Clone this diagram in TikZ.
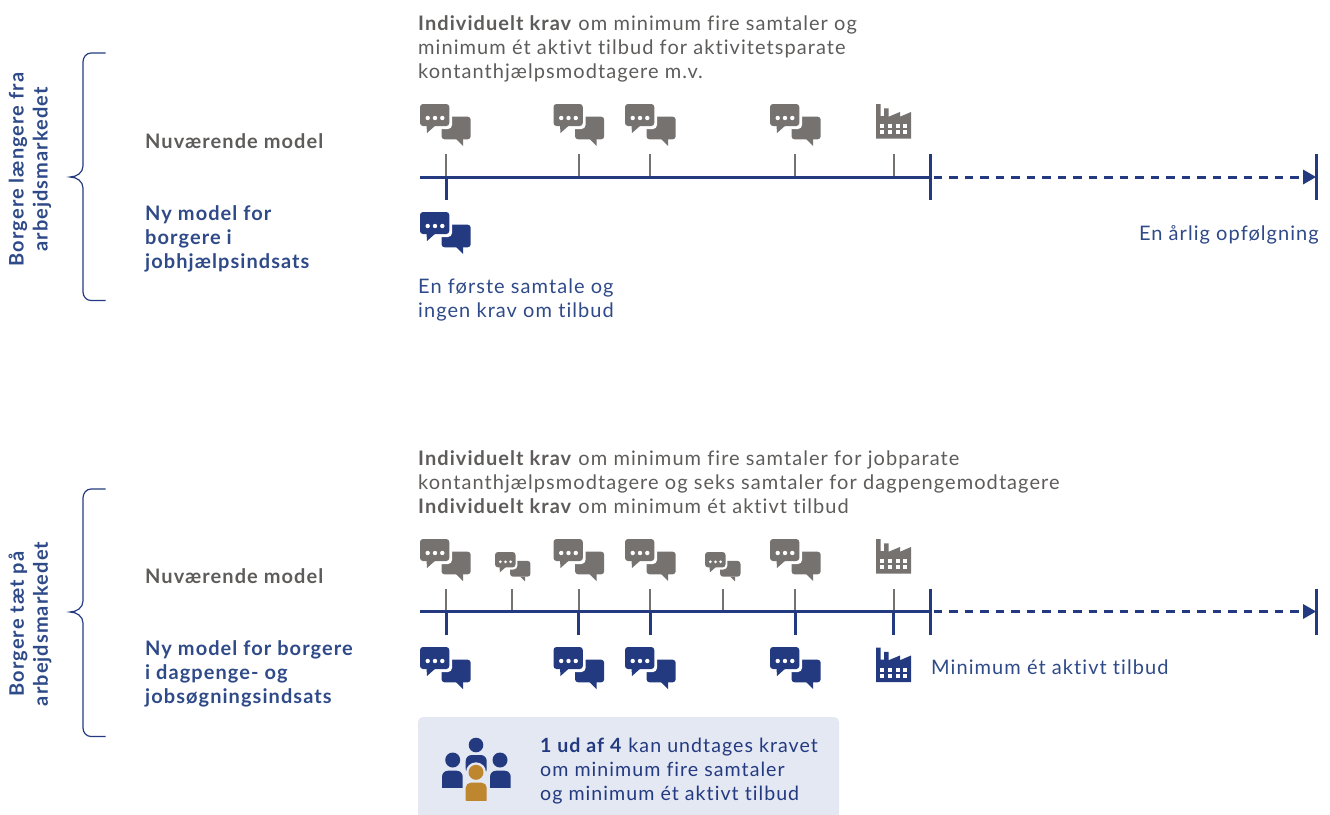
\documentclass[tikz,border=0pt]{standalone}
\usepackage{fontspec}
\setmainfont{Lato}[LetterSpace=5.3,Ligatures=NoCommon]
\usetikzlibrary{arrows.meta}
\definecolor{navy}{HTML}{233A80}
\definecolor{navytxt}{HTML}{2F4A88}
\definecolor{gr}{HTML}{767270}
\definecolor{grtxt}{HTML}{5E5C5B}
\definecolor{boxbg}{HTML}{E4E8F2}
\definecolor{ochre}{HTML}{BE862F}
\tikzset{
  x=1pt,y=-1pt,
  txt/.style={inner sep=0pt,anchor=north west,align=left,font=\fontsize{20}{24}\selectfont},
  hd/.style={txt,font=\fontsize{20}{24}\selectfont\bfseries},
  axisline/.style={navy,line width=3pt},
  dashline/.style={navy,line width=3pt,dash pattern=on 8.5pt off 7pt},
  thin tick/.style={gr,line width=1.7pt},
  thick tick/.style={navy,line width=3pt},
  bracel/.style={navy,line width=1.2pt},
  chat/.pic={
    \fill[pic actions,rounded corners=3pt] (21.5,12.7) -- (50.7,12.7) -- (50.7,35.3) -- (21.5,35.3) -- cycle;
    \fill[pic actions] (36,35) -- (43,42) -- (43,35) -- cycle;
    \fill[white,rounded corners=4pt] (-2,-2) rectangle (32,25);
    \fill[pic actions,rounded corners=3pt] (0,0) -- (29.3,0) -- (29.3,22) -- (0,22) -- cycle;
    \fill[pic actions] (6.5,21) -- (7,29) -- (16,21) -- cycle;
    \foreach \d in {7.7,15,22.3} \fill[white] (\d,14) circle (2.2);
  },
  factory/.pic={
    \fill[pic actions] (0,34.7) -- (0,0) -- (4.7,0) -- (4.7,12) -- (8,12) -- (8,4.3) -- (12.7,4.3) -- (12.7,12.7) -- (24,8) -- (24,12.7) -- (35,8) -- (35,34.7) -- cycle;
    \foreach \cx in {4,11.7,19.5,27.2} \foreach \cy in {20.3,26.3}
      \fill[white] (\cx,\cy) rectangle ++(4,3.8);
  },
}
\begin{document}
\begin{tikzpicture}
\useasboundingbox (0,0) rectangle (1330,814);
% box
\fill[boxbg,rounded corners=5pt] (418,830) -- (418,717) -- (839,717) -- (839,830) -- cycle;
% text
\node[txt,text=grtxt] (t1) at (418,15) {\textbf{Individuelt krav} om minimum fire samtaler og\\minimum ét aktivt tilbud for aktivitetsparate\\kontanthjælpsmodtagere m.v.};
\node[hd,text=grtxt] (n1) at (145,133) {Nuværende model};
\node[hd,text=navytxt] (m1) at (145,205) {Ny model for\\borgere i\\jobhjælpsindsats};
\node[txt,text=navytxt] (f1) at (418,279) {En første samtale og\\ingen krav om tilbud};
\node[txt,text=navytxt,anchor=north east] (a1) at (1319,225) {En årlig opfølgning};
\node[txt,text=grtxt] (t2) at (418,450) {\textbf{Individuelt krav} om minimum fire samtaler for jobparate\\kontanthjælpsmodtagere og seks samtaler for dagpengemodtagere\\\textbf{Individuelt krav} om minimum ét aktivt tilbud};
\node[hd,text=grtxt] (n2) at (145,568) {Nuværende model};
\node[hd,text=navytxt] (m2) at (145,640) {Ny model for borgere\\i dagpenge- og\\jobsøgningsindsats};
\node[txt,text=navytxt] (a2) at (931,660) {Minimum ét aktivt tilbud};
\node[txt,text=navy,font=\fontsize{19.6}{24}\selectfont] (b1) at (540,738) {\textbf{1 ud af 4} kan undtages kravet\\om minimum fire samtaler\\og minimum ét aktivt tilbud};
\node[hd,text=navytxt,rotate=90,align=center,anchor=center] (s1) at (30,169.5) {Borgere længere fra\\arbejdsmarkedet};
\node[hd,text=navytxt,rotate=90,align=center,anchor=center] (s2) at (30,624) {Borgere tæt på\\arbejdsmarkedet};
% braces
\draw[bracel] (105.5,53) -- (91,53) to[out=180,in=90] (83,62) -- (83,166) to[out=270,in=0] (70,177) to[out=0,in=90] (83,188) -- (83,292) to[out=270,in=180] (91,300.5) -- (105.5,300.5);
\draw[bracel] (105.5,489) -- (91,489) to[out=180,in=90] (83,498) -- (83,601) to[out=270,in=0] (70,612) to[out=0,in=90] (83,623) -- (83,728) to[out=270,in=180] (91,736.5) -- (105.5,736.5);
% timeline 1
\coordinate (s1a) at (420,177); \coordinate (e1a) at (930.5,177); \coordinate (e1b) at (1316,177);
\foreach \x in {446,579,650,795,894} \draw[thin tick] (\x,154) -- (\x,177);
\draw[axisline] (s1a) -- (e1a);
\draw[dashline] (e1a) ++(3,0) -- (1305,177);
\fill[navy] (1303,169.5) -- (1316,177) -- (1303,184.5) -- cycle;
\draw[thick tick] (446.5,177) -- (446.5,200);
\draw[thick tick] (e1a) ++(0,-23) -- ++(0,46);
\draw[thick tick] (e1b) ++(0,-23) -- ++(0,46);
% timeline 2
\coordinate (s2a) at (420,611.5); \coordinate (e2a) at (930.5,611.5); \coordinate (e2b) at (1316,611.5);
\foreach \x in {446,512,579,650,723,795,894} \draw[thin tick] (\x,589) -- (\x,611);
\draw[axisline] (s2a) -- (e2a);
\draw[dashline] (e2a) ++(3,0) -- (1305,611.5);
\fill[navy] (1303,604) -- (1316,611.5) -- (1303,619) -- cycle;
\foreach \x in {446.5,578.5,650.5,795.5,893.5} \draw[thick tick] (\x,611.5) -- (\x,634.5);
\draw[thick tick] (e2a) ++(0,-23) -- ++(0,46);
\draw[thick tick] (e2b) ++(0,-23) -- ++(0,46);
% icons
\foreach \x in {420,553.5,625,770} {
  \pic[gr] at (\x,104) {chat};
  \pic[gr] at (\x,539) {chat};
  \pic[navy] at (\x,647) {chat};
}
\pic[navy] at (420,212) {chat};
\pic[gr,scale=0.7] at (495,552) {chat};
\pic[gr,scale=0.7] at (705,552) {chat};
\pic[gr] at (876,104) {factory};
\pic[gr] at (876,539) {factory};
\pic[navy] at (876,647.5) {factory};
% people
\fill[navy] (476,745) circle (7.3);
\fill[navy] (452.7,760) circle (7.5);
\fill[navy] (500,760) circle (7.5);
\fill[navy,rounded corners=6pt] (442,795) -- (442,770.7) -- (462.7,770.7) -- (462.7,795) -- cycle;
\fill[boxbg] (440,788.3) rectangle (465,797);
\fill[navy,rounded corners=6pt] (490,795) -- (490,770.7) -- (510.7,770.7) -- (510.7,795) -- cycle;
\fill[boxbg] (488,788.3) rectangle (513,797);
\fill[navy,rounded corners=6pt] (465.7,775) -- (465.7,755) -- (486.7,755) -- (486.7,775) -- cycle;
\fill[boxbg] (476,772.3) circle (10);
\fill[ochre] (476,772.3) circle (7.5);
\fill[ochre,rounded corners=5pt] (465.7,805) -- (465.7,782.7) -- (486.7,782.7) -- (486.7,805) -- cycle;
\fill[boxbg] (463,800.7) rectangle (490,807);
\end{tikzpicture}
\end{document}
